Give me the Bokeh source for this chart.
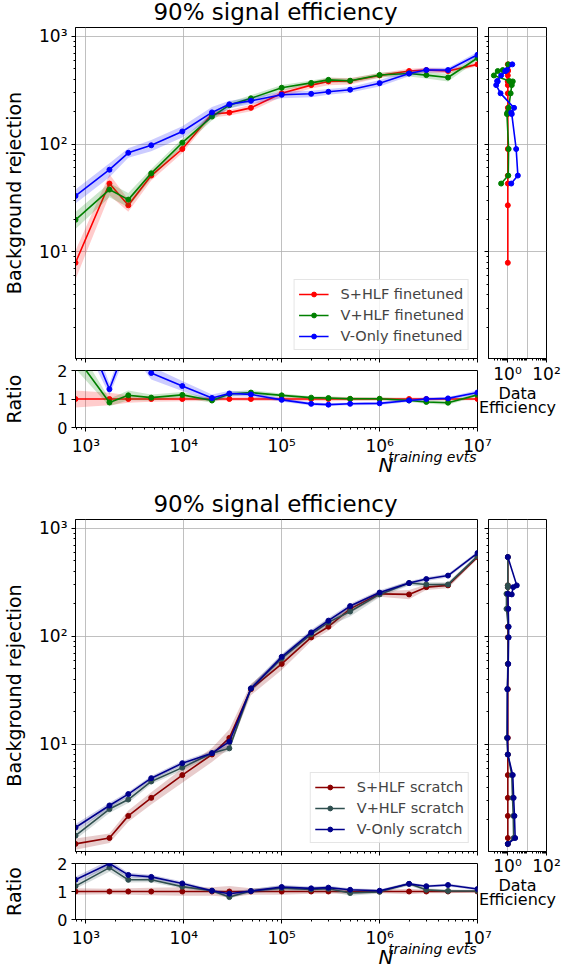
from bokeh.plotting import figure
from bokeh.layouts import column, row
from bokeh.models import Range1d, FixedTicker, CustomJSTickFormatter, Label, Legend, LegendItem
from bokeh.embed import file_html
from bokeh.resources import INLINE

FONT = "DejaVu Sans"

# ---------------- data ----------------
n_train = [783, 1740, 2710, 4650, 9650, 19400, 29200, 48500, 1e5, 2e5, 3e5, 5e5,
           1e6, 2e6, 3e6, 5e6, 1e7]

# finetuned (top)
ft_labels = ["S+HLF finetuned", "V+HLF finetuned", "V-Only finetuned"]
ft_colors = ["#ff0000", "#008000", "#0000ff"]
shlf_ft = [7.9, 43, 27, 51, 90, 190, 196, 217, 296, 353, 382, 385, 434, 477, 487, 477, 550]
vhlf_ft = [19.8, 37.8, 30.5, 53.5, 103, 180, 230, 266, 334, 370, 395, 388, 438, 452, 437, 415, 630]
vonly_ft = [33, 57.8, 83, 97.5, 131, 197, 234, 252, 287, 293, 306, 320, 368, 453, 487, 487, 676]
shlf_ft_err = [0.30, 0.22, 0.13, 0.10, 0.08, 0.07, 0.06, 0.07, 0.07, 0.07, 0.08, 0.07, 0.05, 0.05, 0.05, 0.05, 0.04]
vhlf_ft_err = [0.18, 0.15, 0.15, 0.10, 0.09, 0.08, 0.07, 0.07, 0.06, 0.05, 0.05, 0.05, 0.05, 0.06, 0.07, 0.08, 0.05]
vonly_ft_err = [0.15, 0.15, 0.10, 0.12, 0.12, 0.12, 0.08, 0.07, 0.07, 0.07, 0.06, 0.06, 0.07, 0.06, 0.05, 0.05, 0.06]

# data efficiency (top side panel)
ft_eff_y_shlf = [7.9, 43, 27, 51, 90, 190, 196, 217, 296, 353, 382, 385, 434, 477, 487, 477, 550]
ft_eff_x_shlf = [1.0, 1.0, 1.0, 1.0, 1.0, 1.0, 1.0, 1.0, 1.0, 1.0, 1.0, 1.0, 1.0, 1.0, 1.0, 1.0, 1.0]
ft_eff_y_vhlf = [43, 51, 90, 190, 196, 217, 296, 353, 382, 385, 434, 477, 487, 477, 550]
ft_eff_x_vhlf = [0.45, 1.05, 1.1, 0.9, 0.95, 1.1, 1.4, 1.6, 1.8, 1.2, 0.19, 0.3, 0.55, 0.75, 1.05]
ft_eff_y_vonly = [43, 51, 90, 190, 196, 217, 296, 353, 382, 385, 434, 477, 487, 477, 550]
ft_eff_x_vonly = [1.5, 3.3, 2.7, 1.6, 1.5, 2.1, 0.42, 0.25, 0.3, 0.28, 0.45, 0.75, 0.9, 0.75, 1.7]

# scratch (bottom)
sc_labels = ["S+HLF scratch", "V+HLF scratch", "V-Only scratch"]
sc_colors = ["#8b0000", "#2f4f4f", "#00008b"]
shlf_sc = [1.2, 1.36, 2.18, 3.2, 5.2, 8.07, 11.5, 32.5, 55.7, 98, 123, 180, 248, 245, 286, 297, 543]
vhlf_sc = [1.43, 2.52, 3.09, 4.54, 6.1, 8.3, 9.2, 33, 62.5, 105, 135, 170, 245, 312, 303, 303, 554]
vonly_sc = [1.7, 2.72, 3.47, 4.87, 6.7, 8.3, 10.6, 33, 64.7, 109, 140, 191, 255, 312, 340, 366, 592]
shlf_sc_err = [0.12, 0.10, 0.12, 0.13, 0.15, 0.15, 0.20, 0.12, 0.12, 0.08, 0.08, 0.08, 0.06, 0.10, 0.06, 0.06, 0.04]
vhlf_sc_err = [0.08, 0.08, 0.07, 0.06, 0.06, 0.06, 0.06, 0.08, 0.08, 0.07, 0.08, 0.10, 0.06, 0.05, 0.05, 0.05, 0.04]
vonly_sc_err = [0.08, 0.06, 0.05, 0.05, 0.05, 0.05, 0.08, 0.07, 0.06, 0.06, 0.06, 0.05, 0.05, 0.04, 0.04, 0.04, 0.04]

sc_eff_y_shlf = [1.2, 1.36, 2.18, 3.2, 5.2, 8.07, 11.5, 32.5, 55.7, 98, 123, 180, 248, 245, 286, 297, 543]
sc_eff_x_shlf = [1.0, 1.0, 1.0, 1.0, 1.0, 1.0, 1.0, 1.0, 1.0, 1.0, 1.0, 1.0, 1.0, 1.0, 1.0, 1.0, 1.0]
sc_eff_y_vhlf = [1.2, 1.36, 2.18, 3.2, 5.2, 8.07, 11.5, 32.5, 55.7, 98, 123, 180, 248, 245, 286, 297, 543]
sc_eff_x_vhlf = [1.0, 2.0, 1.9, 1.75, 1.6, 1.0, 0.9, 0.95, 1.0, 1.05, 1.05, 0.85, 0.85, 1.0, 1.0, 1.0, 1.0]
sc_eff_y_vonly = [1.2, 1.36, 2.18, 3.2, 5.2, 8.07, 11.5, 32.5, 55.7, 98, 123, 180, 248, 245, 286, 297, 543]
sc_eff_x_vonly = [1.0, 2.4, 2.2, 2.0, 1.8, 1.0, 0.95, 0.95, 1.05, 1.1, 1.1, 1.05, 1.0, 1.6, 1.9, 2.9, 1.0]

title_text = "90% signal efficiency"
y_label = "Background rejection"
ratio_label = "Ratio"
eff_label = ["Data", "Efficiency"]
eff_tick_labels = ["10\u2070", "10\u00b2"]
x_label_main = "N"
x_label_sup = "training evts"

XR = (783, 1e7)
YR = (1.02, 1210)
EFF_XR = (0.1, 100)

POW10_JS = """
const sup = {'0':'\\u2070','1':'\\u00b9','2':'\\u00b2','3':'\\u00b3','4':'\\u2074',
             '5':'\\u2075','6':'\\u2076','7':'\\u2077','8':'\\u2078','9':'\\u2079','-':'\\u207b'};
const e = Math.round(Math.log10(tick));
return '10' + String(e).split('').map(c => sup[c]).join('');
"""
EMPTY_JS = "return '';"


def log_ticks(e0, e1):
    major = [10.0 ** e for e in range(e0, e1 + 1)]
    minor = [m * 10.0 ** e for e in range(e0 - 1, e1 + 1) for m in range(2, 10)]
    return major, minor


def style_axis(ax, size="17px"):
    ax.major_label_text_font = FONT
    ax.major_label_text_font_size = size
    ax.major_label_text_color = "black"
    ax.axis_line_color = "black"
    ax.major_tick_line_color = "black"
    ax.minor_tick_line_color = "black"
    ax.major_tick_out = 4
    ax.major_tick_in = 0
    ax.minor_tick_out = 2
    ax.minor_tick_in = 0
    ax.major_label_standoff = 4
    ax.axis_label_text_font = FONT
    ax.axis_label_text_font_style = "normal"
    ax.axis_label_text_font_size = "19px"
    ax.axis_label_text_color = "black"


def hide_labels(ax):
    ax.formatter = CustomJSTickFormatter(code=EMPTY_JS)
    ax.major_label_text_font_size = "1px"
    ax.major_label_text_alpha = 0
    ax.major_label_standoff = 0


def style_fig(p):
    p.outline_line_color = "black"
    p.outline_line_alpha = 1.0
    p.outline_line_width = 1
    p.background_fill_color = "white"
    p.border_fill_color = "white"
    for g in (p.xgrid, p.ygrid):
        g.grid_line_color = "#b0b0b0"
        g.grid_line_alpha = 0.8
        g.grid_line_width = 1


def add_text(p, text, x, y, size, align="left", style="normal"):
    p.add_layout(Label(x=x, y=y, x_units="screen", y_units="screen", text=text,
                       text_font=FONT, text_font_size=size, text_align=align,
                       text_baseline="alphabetic", text_font_style=style,
                       text_color="black"))


def block(ys, errs, labels, colors, eff_x, eff_y, frame_h, ratio_fh, ratio_bb):
    mx, mnx = log_ticks(3, 7)
    my, mny = log_ticks(0, 3)
    ex, mnex = log_ticks(-1, 2)
    xr = Range1d(*XR)
    yr = Range1d(*YR)
    top_h = 27 + frame_h + 5
    rat_h = 7 + ratio_fh + ratio_bb
    block_h = top_h + rat_h

    main = figure(width=483, height=top_h, x_axis_type="log", y_axis_type="log",
                  x_range=xr, y_range=yr,
                  min_border_left=73, min_border_right=6, min_border_top=27, min_border_bottom=5,
                  output_backend="svg", toolbar_location=None)
    side = figure(width=79, height=top_h, x_axis_type="log", y_axis_type="log",
                  x_range=Range1d(*EFF_XR), y_range=yr,
                  min_border_left=5, min_border_right=16, min_border_top=27, min_border_bottom=5,
                  output_backend="svg", toolbar_location=None)
    ratio = figure(width=562, height=rat_h, x_axis_type="log",
                   x_range=xr, y_range=Range1d(0, 2),
                   min_border_left=73, min_border_right=85, min_border_top=7,
                   min_border_bottom=ratio_bb, output_backend="svg", toolbar_location=None)
    for p in (main, side, ratio):
        style_fig(p)

    # main axes
    main.xaxis.ticker = FixedTicker(ticks=mx, minor_ticks=mnx)
    main.xgrid.ticker = FixedTicker(ticks=mx)
    main.yaxis.ticker = FixedTicker(ticks=my, minor_ticks=mny)
    main.ygrid.ticker = FixedTicker(ticks=my)
    style_axis(main.xaxis[0])
    style_axis(main.yaxis[0])
    main.yaxis.formatter = CustomJSTickFormatter(code=POW10_JS)
    hide_labels(main.xaxis[0])
    main.yaxis.axis_label = y_label
    main.yaxis.axis_label_standoff = 11

    # side axes
    side.xaxis.ticker = FixedTicker(ticks=[1.0, 100.0], minor_ticks=mnex)
    side.xgrid.ticker = FixedTicker(ticks=[1.0, 10.0])
    side.yaxis.ticker = FixedTicker(ticks=my, minor_ticks=mny)
    side.ygrid.ticker = FixedTicker(ticks=my)
    style_axis(side.xaxis[0])
    style_axis(side.yaxis[0])
    hide_labels(side.xaxis[0])
    hide_labels(side.yaxis[0])

    # ratio axes
    ratio.xaxis.ticker = FixedTicker(ticks=mx, minor_ticks=mnx)
    ratio.xgrid.ticker = FixedTicker(ticks=mx)
    ratio.yaxis.ticker = FixedTicker(ticks=[0, 1, 2])
    ratio.ygrid.grid_line_color = None
    style_axis(ratio.xaxis[0])
    style_axis(ratio.yaxis[0], size="16px")
    ratio.xaxis.formatter = CustomJSTickFormatter(code=POW10_JS)
    ratio.yaxis.axis_label = ratio_label
    ratio.yaxis.axis_label_standoff = 29

    ref = ys[0]
    items = []
    for y, e, lab, c in zip(ys, errs, labels, colors):
        lo = [v * (1 - f) for v, f in zip(y, e)]
        hi = [v * (1 + f) for v, f in zip(y, e)]
        main.varea(x=n_train, y1=lo, y2=hi, fill_color=c, fill_alpha=0.2)
        ln = main.line(n_train, y, line_color=c, line_width=1.6)
        sc = main.scatter(n_train, y, size=5, fill_color=c, line_color=c)
        items.append(LegendItem(label=lab, renderers=[ln, sc]))
        r = [v / rv for v, rv in zip(y, ref)]
        ratio.varea(x=n_train, y1=[q * (1 - f) for q, f in zip(r, e)],
                    y2=[q * (1 + f) for q, f in zip(r, e)], fill_color=c, fill_alpha=0.2)
        ratio.line(n_train, r, line_color=c, line_width=1.6)
        ratio.scatter(n_train, r, size=5, fill_color=c, line_color=c)

    for exs, eys, c in zip(eff_x, eff_y, colors):
        side.line(exs, eys, line_color=c, line_width=1.6)
        side.scatter(exs, eys, size=5, fill_color=c, line_color=c)

    legend = Legend(items=items, location="bottom_right", label_text_font=FONT,
                    label_text_font_size="14.5px", glyph_width=30, glyph_height=12,
                    label_height=19, label_standoff=12, spacing=2, padding=4, margin=8,
                    border_line_color="#cccccc", border_line_width=1,
                    background_fill_alpha=0.8)
    main.add_layout(legend)

    # transparent overlay covering the whole block, for texts outside the frames
    over = figure(width=562, height=block_h, x_range=Range1d(0, 562), y_range=Range1d(0, block_h),
                  min_border_left=0, min_border_right=0, min_border_top=0, min_border_bottom=0,
                  x_axis_location=None, y_axis_location=None,
                  output_backend="svg", toolbar_location=None,
                  margin=(-block_h, 0, 0, 0))
    if "frame_align" in over.properties():
        over.frame_align = False
    over.outline_line_color = None
    over.background_fill_alpha = 0
    over.border_fill_alpha = 0
    over.xgrid.visible = False
    over.ygrid.visible = False

    def oy(v):  # v: pixel row (text baseline) measured from the top of the block
        return block_h - v + 7

    rb = top_h + 7 + ratio_fh  # ratio frame bottom, px from block top
    add_text(over, title_text, 275, oy(18.5), "23px", align="center")
    add_text(over, eff_tick_labels[0], 507, oy(rb - 47), "17px", align="center")
    add_text(over, eff_tick_labels[1], 546, oy(rb - 47), "17px", align="center")
    add_text(over, eff_label[0], 517, oy(rb - 27.5), "16px", align="center")
    add_text(over, eff_label[1], 517, oy(rb - 13.5), "16px", align="center")
    add_text(over, x_label_main, 393, oy(rb + 44), "20px", align="right", style="italic")
    add_text(over, x_label_sup, 476, oy(rb + 36), "14px", align="right", style="italic")

    return column(row(main, side, spacing=0), ratio, over, spacing=0)


top = block([shlf_ft, vhlf_ft, vonly_ft], [shlf_ft_err, vhlf_ft_err, vonly_ft_err],
            ft_labels, ft_colors,
            [ft_eff_x_shlf, ft_eff_x_vhlf, ft_eff_x_vonly],
            [ft_eff_y_shlf, ft_eff_y_vhlf, ft_eff_y_vonly],
            frame_h=331, ratio_fh=57, ratio_bb=65)
bottom = block([shlf_sc, vhlf_sc, vonly_sc], [shlf_sc_err, vhlf_sc_err, vonly_sc_err],
               sc_labels, sc_colors,
               [sc_eff_x_shlf, sc_eff_x_vhlf, sc_eff_x_vonly],
               [sc_eff_y_shlf, sc_eff_y_vhlf, sc_eff_y_vonly],
               frame_h=332, ratio_fh=56, ratio_bb=50)

layout = column(top, bottom, spacing=0)
with open("out.html", "w", encoding="utf-8") as f:
    f.write(file_html(layout, INLINE))
